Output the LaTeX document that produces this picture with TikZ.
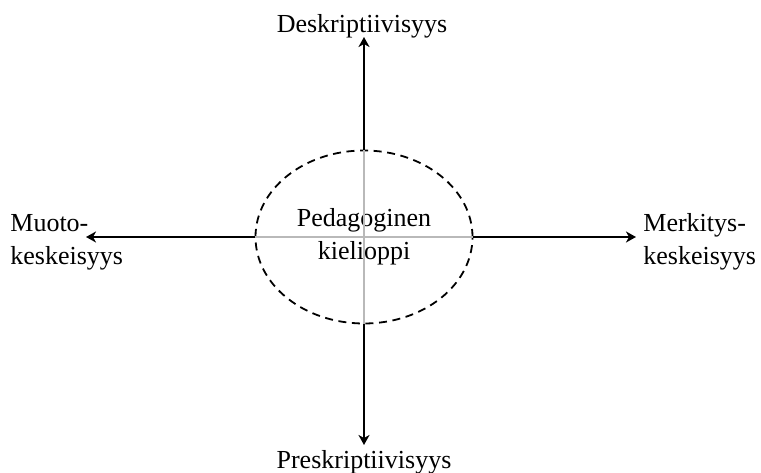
\documentclass[tikz,border=0pt]{standalone}
\usepackage{fontspec}
\setmainfont{Liberation Serif}
\usepackage{tikz}
\usetikzlibrary{shapes.geometric,arrows.meta}
\tikzset{>={Stealth[length=5pt,width=5.5pt,inset=1.5pt]}}
\tikzstyle{axislabel}=[inner sep=0pt, font=\fontsize{13pt}{16.5pt}\selectfont]
\tikzstyle{center}=[ellipse, draw, dashed, dash pattern=on 4pt off 2.8pt, line width=0.9pt,
  minimum width=108.5pt, minimum height=86.5pt, inner sep=0pt, align=center,
  font=\fontsize{13pt}{16.5pt}\selectfont]

\begin{document}
\begin{tikzpicture}[x=0.5pt, y=0.5pt]
\useasboundingbox (0,0) rectangle (761,472);
\node[center] (ped) at (364,235) {Pedagoginen\\kielioppi};
\draw [gray!55, line width=0.8pt] (ped.west) -- (ped.east);
\draw [gray!55, line width=0.8pt] (ped.north) -- (ped.south);
\node[axislabel, anchor=base] (desk) at (362,439) {Deskriptiivisyys};
\node[axislabel, anchor=base] (pres) at (364,4) {Preskriptiivisyys};
\node[axislabel, anchor=west, align=left] (muoto) at (10,230) {Muoto-\\keskeisyys};
\node[axislabel, anchor=west, align=left] (merk) at (643,230) {Merkitys-\\keskeisyys};
\coordinate (tipn) at (364,435);
\coordinate (tips) at (364,27);
\coordinate (tipw) at (86,235);
\coordinate (tipe) at (636,235);
\draw [->, line width=1.3pt] (ped.north) -- (tipn);
\draw [->, line width=1.3pt] (ped.south) -- (tips);
\draw [->, line width=1.3pt] (ped.west) -- (tipw);
\draw [->, line width=1.3pt] (ped.east) -- (tipe);
\end{tikzpicture}
\end{document}
